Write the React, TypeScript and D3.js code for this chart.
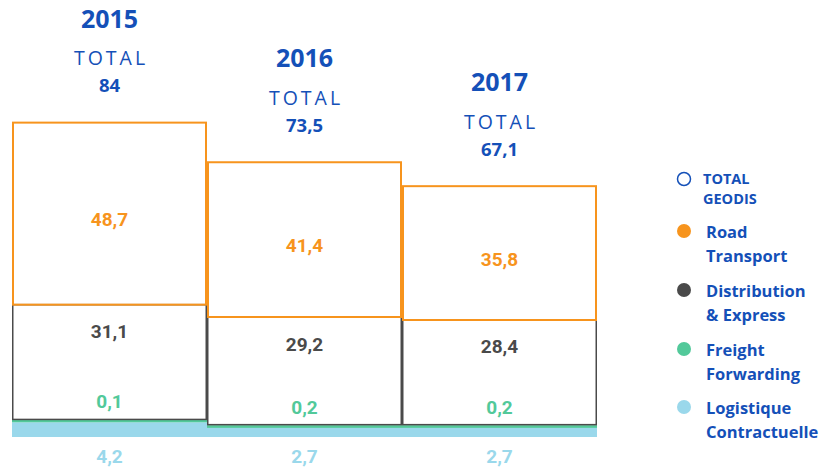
import React from "react";
import * as d3 from "d3";

const years = ["2015", "2016", "2017"];
const totals = ["84", "73,5", "67,1"];
const logistique = [4.2, 2.7, 2.7];
const freight = [0.1, 0.2, 0.2];
const distribution = [31.1, 29.2, 28.4];
const road = [48.7, 41.4, 35.8];

const legendItems = [
  { lines: ["TOTAL", "GEODIS"], color: "#ffffff", stroke: "#1450b8" },
  { lines: ["Road", "Transport"], color: "#f7941d", stroke: "none" },
  { lines: ["Distribution", "& Express"], color: "#4a4a4a", stroke: "none" },
  { lines: ["Freight", "Forwarding"], color: "#52c99a", stroke: "none" },
  { lines: ["Logistique", "Contractuelle"], color: "#9ad8eb", stroke: "none" },
];

const BLUE = "#1450b8";
const ORANGE = "#f7941d";
const GRAY = "#4a4a4a";
const GREEN = "#52c99a";
const LIGHT = "#9ad8eb";

const fmt = (v: number) => String(v).replace(".", ",");

export default function App() {
  const width = 823;
  const height = 468;
  const x = d3.scaleBand().domain(years).range([12, 597]).padding(0);
  const y = d3.scaleLinear().domain([0, 84]).range([437, 123]);
  const font = "'Open Sans', sans-serif";
  const numFont = "Roboto, sans-serif";

  return (
    <svg
      width={width}
      height={height}
      style={{ position: "absolute", left: 0, top: 0, background: "#fff" }}
      fontFamily={font}
    >
      {years.map((yr, i) => {
        const x0 = x(yr)!;
        const w = x.bandwidth();
        const cx = x0 + w / 2;
        const b0 = 0;
        const b1 = b0 + logistique[i];
        const b2 = b1 + freight[i];
        const b3 = b2 + distribution[i];
        const b4 = b3 + road[i];
        const top = y(b4);
        return (
          <g key={yr}>
            {/* logistique */}
            <rect x={x0} y={y(b1) + 1} width={w} height={y(b0) - y(b1) - 1} fill={LIGHT} />
            {/* freight */}
            <rect
              x={x0}
              y={y(b2) - 1}
              width={w}
              height={Math.max(y(b1) - y(b2), 0) + 2}
              fill={GREEN}
            />
            {/* distribution */}
            <rect
              x={x0 + 0.75}
              y={y(b3)}
              width={w - 1.5}
              height={y(b2) - y(b3) - 1.5}
              fill="none"
              stroke={GRAY}
              strokeWidth={1.5}
            />
            {/* road */}
            <rect
              x={x0 + 1}
              y={y(b4)}
              width={w - 2}
              height={y(b3) - y(b4)}
              fill="none"
              stroke={ORANGE}
              strokeWidth={2}
            />
            <g fontFamily={numFont} fontSize={19} fontWeight={700} textAnchor="middle">
              <text x={cx} y={(y(b4) + y(b3)) / 2 + 6} dominantBaseline="central"
                fill={ORANGE}>{fmt(road[i])}</text>
              <text x={cx} y={y(b3) + 27} dominantBaseline="central"
                fill={GRAY}>{fmt(distribution[i])}</text>
              <text x={cx} y={y(b2) - 19} dominantBaseline="central"
                fill={GREEN}>{fmt(freight[i])}</text>
              <text x={cx} y={y(b0) + 19} dominantBaseline="central"
                fill={LIGHT}>{fmt(logistique[i])}</text>
            </g>
            {/* header */}
            <text x={cx} y={top - 105} textAnchor="middle" dominantBaseline="central"
              fontSize={25} fontWeight={700} fill={BLUE}>{yr}</text>
            <text x={cx + 1.5} y={top - 65} textAnchor="middle" dominantBaseline="central"
              fontSize={19.5} fontWeight={400} letterSpacing={3} fill={BLUE}>TOTAL</text>
            <text x={cx} y={top - 38} textAnchor="middle" dominantBaseline="central"
              fontSize={18.5} fontWeight={700} fill={BLUE}>{totals[i]}</text>
          </g>
        );
      })}
      {legendItems.map((d, i) => {
        const ys = [178, 231, 290, 349, 407];
        const ly = ys[i];
        return (
          <g key={d.lines[0]}>
            <circle cx={684} cy={i === 0 ? ly + 1 : ly} r={i === 0 ? 6.5 : 7} fill={d.color}
              stroke={d.stroke} strokeWidth={1.5} />
            {d.lines.map((t, j) => (
              <text key={t} x={i === 0 ? 703 : 706} y={ly + j * (i === 0 ? 20 : 24)}
                dominantBaseline="central" fontSize={i === 0 ? 14.5 : 16.5} fontWeight={700}
                fill={BLUE}>{t}</text>
            ))}
          </g>
        );
      })}
    </svg>
  );
}
